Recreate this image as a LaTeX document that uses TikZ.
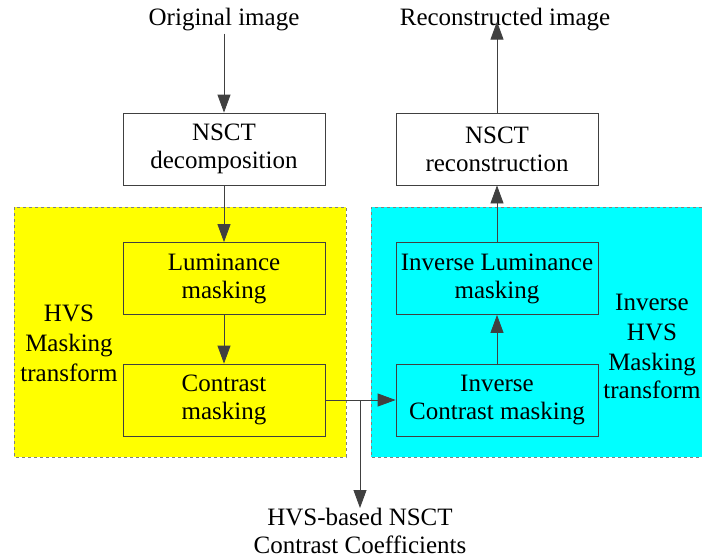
\documentclass[tikz,border=0pt]{standalone}
\usepackage{fontspec}
\setmainfont{Liberation Serif}
\newfontfamily\diagfont{Liberation Serif}
\usetikzlibrary{arrows.meta}
\definecolor{linegray}{RGB}{64,64,64}
\definecolor{maskyellow}{RGB}{255,255,0}
\definecolor{maskcyan}{RGB}{0,255,255}
\begin{document}
\begin{tikzpicture}[x=1pt,y=-1pt,
	>={Triangle[length=18pt,width=13pt]},
	box/.style={draw=linegray,line width=0.8pt,minimum width=202pt,minimum height=72pt,align=center,inner sep=0pt},
	lbl/.style={align=center,inner sep=0pt},
	link/.style={draw=linegray,line width=0.8pt,->},
	every node/.style={font=\diagfont\fontsize{25}{28}\selectfont}]
	\useasboundingbox (0,0) rectangle (702,558);
	% masking regions
	\fill[maskyellow] (14,207) rectangle (346,457);
	\draw[gray,dashed,line width=0.8pt] (14,207) rectangle (346,457);
	\fill[maskcyan] (371,207) rectangle (702,457);
	\draw[gray,dashed,line width=0.8pt] (702,207)--(371,207)--(371,457)--(702,457);
	\node[lbl] (hvs) at (69,343) {HVS\\[2pt]Masking\\[2pt]transform};
	\node[lbl] (ihvs) at (652,346) {Inverse\\[2pt]HVS\\[2pt]Masking\\transform};
	% boxes
	\node[lbl] (orig) at (224,20) {Original image};
	\node[lbl] (recimg) at (505,20) {Reconstructed image};
	\node[box,fill=white] (decomp) at (224,149) {NSCT\\decomposition};
	\node[box] (lum) at (224,278.5) {Luminance\\masking};
	\node[box] (con) at (224,400) {Contrast\\masking};
	\node[box,fill=white] (recon) at (497,149) {NSCT\\reconstruction};
	\node[box] (ilum) at (497,278.5) {Inverse Luminance\\masking};
	\node[box] (icon) at (497,400) {Inverse\\Contrast masking};
	\node[lbl] (coef) at (360,531) {HVS-based NSCT\\Contrast Coefficients};
	\coordinate (split) at (360,400);
	% connectors
	\draw[link] (decomp |- orig.south)++(0,2) -- (decomp.north);
	\draw[link] (decomp) -- (lum);
	\draw[link] (lum) -- (con);
	\draw[link] (con) -- (icon);
	\draw[link] (split) -- (coef.north);
	\draw[link] (icon) -- (ilum);
	\draw[link] (ilum) -- (recon);
	\draw[link] (recon.north) -- ([yshift=10pt]recon |- recimg.south);
\end{tikzpicture}
\end{document}
